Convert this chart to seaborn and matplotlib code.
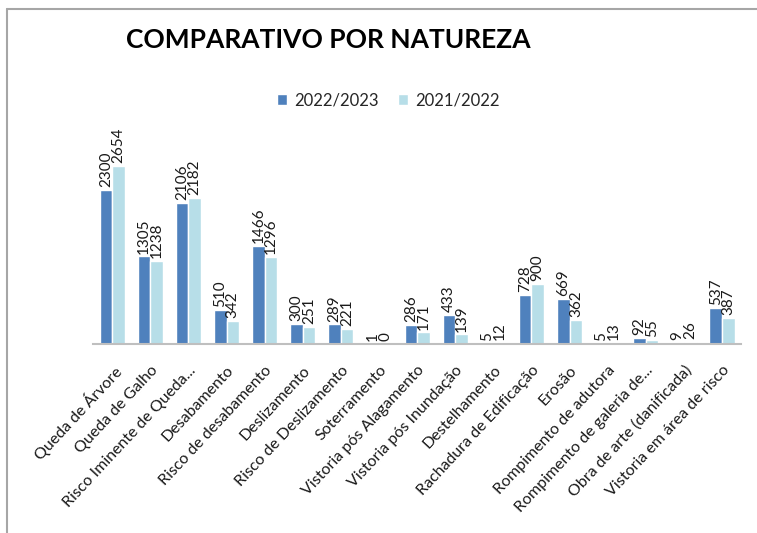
import pandas as pd
import numpy as np
import seaborn as sns
import matplotlib.pyplot as plt
from matplotlib.lines import Line2D

# %% dados
naturezas = ['Queda de Árvore', 'Queda de Galho', 'Risco Iminente de Queda...', 'Desabamento',
             'Risco de desabamento', 'Deslizamento', 'Risco de Deslizamento', 'Soterramento',
             'Vistoria pós Alagamento', 'Vistoria pós Inundação', 'Destelhamento',
             'Rachadura de Edificação', 'Erosão', 'Rompimento de adutora',
             'Rompimento de galeria de...', 'Obra de arte (danificada)', 'Vistoria em área de risco']
v_2022_2023 = [2300, 1305, 2106, 510, 1466, 300, 289, 1, 286, 433, 5, 728, 669, 5, 92, 9, 537]
v_2021_2022 = [2654, 1238, 2182, 342, 1296, 251, 221, 0, 171, 139, 12, 900, 362, 13, 55, 26, 387]
periodos = ['2022/2023', '2021/2022']
cores = ['#4F81BD', '#B7DEE8']

df = pd.DataFrame({
    'natureza': naturezas * 2,
    'valor': v_2022_2023 + v_2021_2022,
    'periodo': [periodos[0]] * len(naturezas) + [periodos[1]] * len(naturezas),
})

# %% grafico
sns.set_style('white')
plt.rcParams['font.family'] = ['Lato', 'DejaVu Sans']

fig = plt.figure(figsize=(7.57, 5.33), dpi=100)
ax = fig.add_axes([0.123, 0.355, 0.856, 0.377])

sns.barplot(data=df, x='natureza', y='valor', hue='periodo', palette=cores,
            width=0.66, saturation=1, ax=ax)

for c in ax.containers:
    ax.bar_label(c, rotation=90, padding=2, fontsize=11, color='#1a1a1a')

ax.set_ylim(0, 3000)
ax.set_xlim(-0.5, len(naturezas) - 0.5)
ax.set_xlabel('')
ax.set_ylabel('')
ax.set_yticks([])
ax.tick_params(axis='x', length=0, pad=14)
plt.setp(ax.get_xticklabels(), rotation=47, ha='right', rotation_mode='anchor',
         fontsize=11.5, color='#1a1a1a')
sns.despine(ax=ax, left=True)
ax.spines['bottom'].set_color('#BFBFBF')
ax.spines['bottom'].set_linewidth(1.5)

ax.legend(loc='center', bbox_to_anchor=(0.513, 0.812), bbox_transform=fig.transFigure,
          ncol=2, frameon=False, fontsize=12, handlelength=0.6, handleheight=0.6,
          handletextpad=0.4, columnspacing=1.2)

fig.text(0.434, 0.925, 'COMPARATIVO POR NATUREZA', ha='center', va='center',
         fontsize=19, fontweight='bold', color='black')

# moldura
fig.add_artist(Line2D([0.009, 1.0], [0.983, 0.983], color='#A6A6A6', lw=1.5,
                      transform=fig.transFigure))
fig.add_artist(Line2D([0.009, 0.009], [0.0, 0.983], color='#A6A6A6', lw=1.5,
                      transform=fig.transFigure))

fig.savefig('out.png', dpi=100)
